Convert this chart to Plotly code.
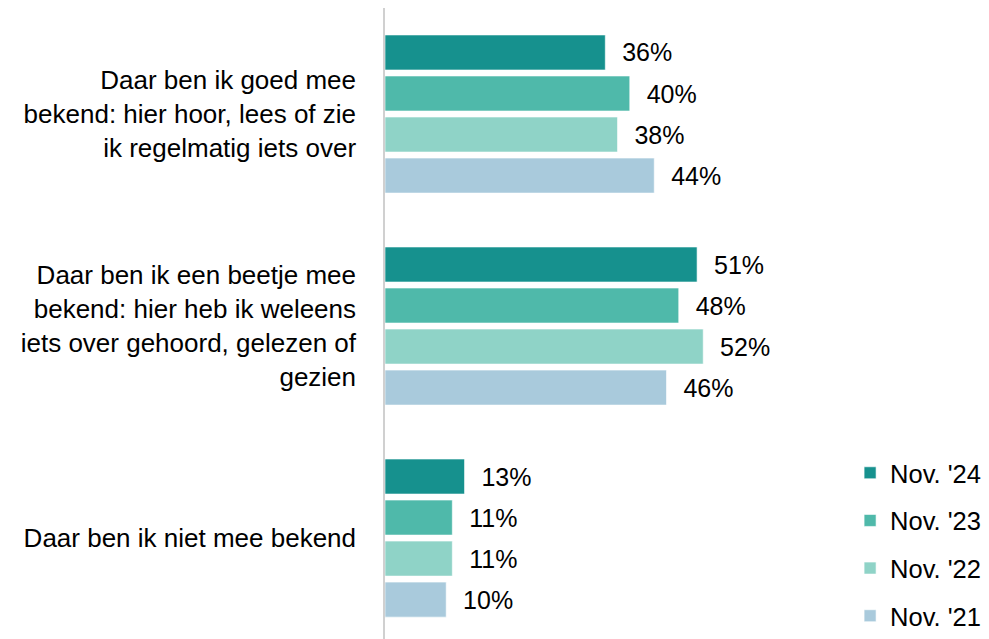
import plotly.graph_objects as go

categories = [
    "Daar ben ik goed mee<br>bekend: hier hoor, lees of zie<br>ik regelmatig iets over",
    "Daar ben ik een beetje mee<br>bekend: hier heb ik weleens<br>iets over gehoord, gelezen of<br>gezien",
    "Daar ben ik niet mee bekend",
]
series_names = ["Nov. '24", "Nov. '23", "Nov. '22", "Nov. '21"]
values = {
    "Nov. '24": [36, 51, 13],
    "Nov. '23": [40, 48, 11],
    "Nov. '22": [38, 52, 11],
    "Nov. '21": [44, 46, 10],
}
colors = {
    "Nov. '24": "#16918e",
    "Nov. '23": "#4fb9aa",
    "Nov. '22": "#8fd3c7",
    "Nov. '21": "#a9cadc",
}

FONT = "Liberation Sans, Arial"

fig = go.Figure()
for i, name in enumerate(series_names):
    fig.add_trace(go.Bar(
        y=categories, x=values[name], name=name, orientation="h",
        marker=dict(color=colors[name], line=dict(color="rgba(255,255,255,0.6)", width=1)),
        text=values[name], texttemplate="\u00a0\u00a0%{x}%", textposition="outside",
        textfont=dict(size=25, color="#000000", family=FONT),
        cliponaxis=False, legendgroup=f"g{i}",
    ))

fig.update_layout(
    width=981, height=631,
    margin=dict(l=377, r=0, t=0, b=0, autoexpand=False),
    paper_bgcolor="white", plot_bgcolor="white",
    barmode="group", bargap=0.226, bargroupgap=0.146,
    font=dict(family=FONT, size=26, color="#000000"),
    showlegend=True,
    legend=dict(x=0.770, y=0.30, xanchor="left", yanchor="top",
                font=dict(size=25.5, color="#000000", family=FONT), tracegroupgap=11.5,
                bgcolor="rgba(0,0,0,0)"),
)
fig.update_xaxes(range=[0, 98.7], visible=False, showgrid=False, zeroline=False)
fig.update_yaxes(range=[2.476, -0.5], showline=True, linecolor="#d0d0d0", linewidth=1.5,
                 showgrid=False, ticks="", ticklabelstandoff=22, automargin=False,
                 tickfont=dict(size=26, color="#000000", family=FONT))

fig.write_html("out.html")
